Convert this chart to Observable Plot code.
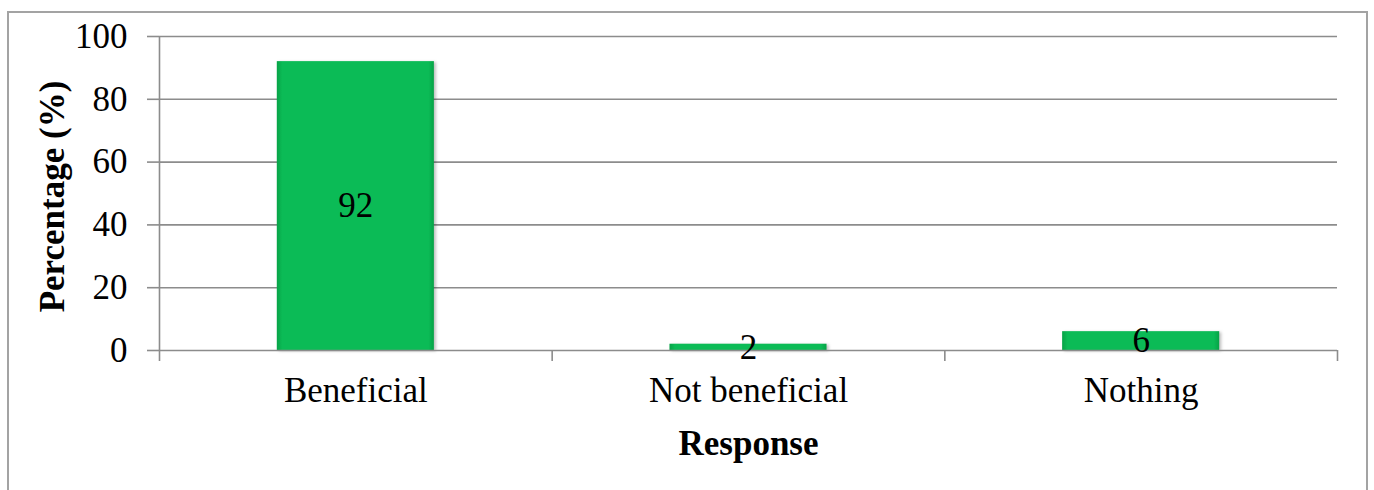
<!DOCTYPE html>
<html>
<head>
<meta charset="utf-8">
<script src="https://cdn.jsdelivr.net/npm/d3@7"></script>
<script src="https://cdn.jsdelivr.net/npm/@observablehq/plot@0.6"></script>
<style>
  html, body { margin: 0; padding: 0; background: #fff; overflow: hidden; }
  #wrap { position: relative; width: 1374px; height: 490px; }
  #border { position: absolute; left: 7px; top: 11px; width: 1357px; height: 520px;
            border: 2px solid #a3a3a3; box-sizing: content-box; }
  #chart { position: absolute; left: 0; top: 0; }
</style>
</head>
<body>
<div id="wrap">
  <div id="border"></div>
  <div id="chart"></div>
</div>
<script>
// Survey responses (percentage of respondents)
const categories = ["Beneficial", "Not beneficial", "Nothing"];
const values = [92, 2, 6];
const yTicks = [0, 20, 40, 60, 80, 100];
const yLabel = "Percentage (%)";
const xLabel = "Response";

const data = categories.map((c, i) => ({category: c, index: i, value: values[i]}));

const font = "'Liberation Serif', 'Times New Roman', serif";
const fs = 35;
const gray = "#8c8c8c";
const barPad = 0.3; // fraction of each category slot left empty on either side

const chart = Plot.plot({
  width: 1374,
  height: 490,
  marginLeft: 159,
  marginRight: 37,
  marginTop: 36,
  marginBottom: 140,
  style: {fontFamily: font, fontSize: fs + "px", color: "#000", background: "transparent"},
  x: {domain: [0, categories.length], axis: null},
  y: {domain: [0, 100], axis: null},
  marks: [
    // horizontal gridlines
    Plot.ruleY(yTicks.filter(t => t > 0), {stroke: gray, strokeWidth: 1.6}),
    // y axis line and ticks
    Plot.ruleX([0], {y1: 0, y2: 100, stroke: gray, strokeWidth: 1.6}),
    Plot.axisY({ticks: yTicks, tickSize: 12, tickPadding: 20, stroke: gray, strokeWidth: 1.6,
                tickFormat: d => d, label: null, fontSize: fs}),
    // category separators below the baseline
    Plot.axisX({ticks: d3.range(categories.length + 1), tickSize: 11, tickFormat: () => "",
                stroke: gray, strokeWidth: 1.6, label: null}),
    // category names
    Plot.axisX({ticks: categories.map((c, i) => i + 0.5), tickSize: 0, tickPadding: 27,
                tickFormat: v => categories[Math.floor(v)], label: null, fontSize: fs}),
    // bars
    Plot.rectY(data, {x1: d => d.index + barPad, x2: d => d.index + 1 - barPad,
                      y1: 0, y2: "value", fill: "url(#barSides)"}),
    // bevel highlight on the top edge of each bar
    Plot.ruleY(data, {x1: d => d.index + barPad, x2: d => d.index + 1 - barPad,
                      y: "value", dy: 3, strokeWidth: 6, stroke: "url(#barTop)"}),
    // baseline
    Plot.ruleY([0], {stroke: gray, strokeWidth: 1.6}),
    // value labels
    Plot.text(data, {x: d => d.index + 0.5, y: d => d.value / 2, text: d => String(d.value),
                     fontSize: fs, fill: "#000", lineAnchor: "middle"}),
    // axis titles
    Plot.text([yLabel], {frameAnchor: "left", dx: -107, dy: 3, rotate: -90, fontWeight: "bold",
                         fontSize: fs, fill: "#000", textAnchor: "middle", lineAnchor: "middle"}),
    Plot.text([xLabel], {frameAnchor: "bottom", dy: 93, fontWeight: "bold",
                         fontSize: fs, fill: "#000", lineAnchor: "middle"})
  ]
});

// gradients for the bevelled bar look
const svg = d3.select(chart);
const defs = svg.insert("defs", ":first-child");
const sideGrad = defs.append("linearGradient").attr("id", "barSides")
  .attr("x1", 0).attr("x2", 1).attr("y1", 0).attr("y2", 0);
[[0, "#07a347"], [0.035, "#0bbb56"], [0.965, "#0bbb56"], [1, "#07a347"]]
  .forEach(([o, c]) => sideGrad.append("stop").attr("offset", o).attr("stop-color", c));
const topGrad = defs.append("linearGradient").attr("id", "barTop")
  .attr("x1", 0).attr("x2", 1).attr("y1", 0).attr("y2", 0);
[[0, "#12c15d"], [0.05, "#36e087"], [0.95, "#36e087"], [1, "#12c15d"]]
  .forEach(([o, c]) => topGrad.append("stop").attr("offset", o).attr("stop-color", c));
svg.selectAll('g[aria-label="rect"]').style("filter", "drop-shadow(2px 1px 1.5px rgba(0,0,0,0.25))");

document.getElementById("chart").appendChild(chart);
</script>
</body>
</html>
